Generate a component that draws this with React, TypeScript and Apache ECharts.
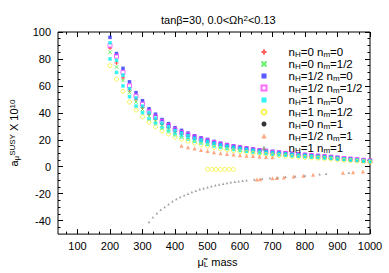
import React, { useEffect, useRef } from 'react';
import * as echarts from 'echarts';

const FONT = '"Liberation Sans", Arial, Helvetica, sans-serif';

// shared mass grid for the upper band (GeV)
const massGrid = [200, 220, 240, 260, 280, 300, 320, 340, 360, 380, 400, 420, 440, 460, 480, 500, 520, 540, 560, 580, 600, 620, 640, 660, 680, 700, 720, 740, 760, 780, 800, 820, 840, 860, 880, 900, 920, 940, 960, 980, 1000];

const redY = [88, 77, 66, 57, 50, 44, 39, 35, 31.5, 29, 26, 24.3, 22.5, 20.7, 19.4, 18.3, 17, 15.8, 14.9, 14.0, 13.3, 12.6, 12.0, 11.3, 10.8, 10.3, 9.8, 9.4, 8.9, 8.6, 8.2, 7.8, 7.5, 7.1, 6.8, 6.2, 5.8, 5.4, 5.0, 4.5, 4.1];
const greenY = [85, 74, 64, 55, 48, 42.5, 37.5, 34, 30.5, 28, 25.2, 23.5, 21.8, 20, 18.7, 17.7, 16.4, 15.2, 14.4, 13.6, 12.9, 12.2, 11.6, 11.0, 10.4, 9.9, 9.5, 9.0, 8.6, 8.3, 7.9, 7.6, 7.2, 6.9, 6.5, 6.0, 5.6, 5.2, 4.8, 4.4, 4.0];
const blueY = [96, 84, 73, 63, 55, 49, 43, 39, 35, 32, 29, 27, 25, 23, 21.5, 20.3, 18.8, 17.5, 16.5, 15.6, 14.8, 14.0, 13.3, 12.6, 12.0, 11.4, 10.9, 10.4, 9.9, 9.5, 9.1, 8.7, 8.3, 7.9, 7.5, 6.9, 6.4, 6.0, 5.5, 5.0, 4.6];
const magentaY = [90, 82, 70, 60, 52.5, 46.5, 41, 37, 33.5, 30.5, 27.5, 25.5, 23.7, 22, 20.5, 19.3, 17.9, 16.7, 15.7, 14.8, 14.1, 13.3, 12.6, 12.0, 11.4, 10.8, 10.4, 9.9, 9.4, 9.0, 8.6, 8.3, 7.9, 7.5, 7.1, 6.6, 6.1, 5.7, 5.3, 4.8, 4.4];
const cyanUpperY = [92, 79, 68, 58, 51, 45, 40, 36, 32.3, 29.5, 26.7, 24.9, 23, 21.2, 19.8, 18.7, 17.3, 16.1, 15.2, 14.4, 13.6, 12.9, 12.2, 11.6, 11.0, 10.5, 10.0, 9.6, 9.1, 8.7, 8.4, 8.0, 7.6, 7.3, 6.9, 6.4, 5.9, 5.5, 5.1, 4.6, 4.2];
const cyanLowerY = [80, 70, 60, 52, 45, 40, 35.3, 32, 28.7, 26.2, 23.8, 22.1, 20.5, 18.9, 17.6, 16.6, 15.4, 14.4, 13.5, 12.8, 12.1, 11.5, 10.9, 10.3, 9.8, 9.3, 8.9, 8.5, 8.1, 7.8, 7.5, 7.1, 6.8, 6.5, 6.1, 5.7, 5.3, 4.9, 4.5, 4.1, 3.8];
const yellowY = [75, 65, 56, 48, 42, 37, 33, 29.6, 26.6, 24.3, 22, 20.5, 19, 17.5, 16.3, 15.4, 14.3, 13.3, 12.5, 11.8, 11.2, 10.6, 10.1, 9.6, 9.1, 8.7, 8.3, 7.9, 7.5, 7.2, 6.9, 6.6, 6.3, 6.0, 5.7, 5.2, 4.9, 4.5, 4.2, 3.8, 3.5];

const yellowLowMass = [500, 513, 526, 540, 553, 566, 580];
const yellowLowY = [-1.9, -1.9, -2.0, -2.0, -1.9, -1.9, -2.0];

const blackMass: number[] = [];
const blackY: number[] = [];

const orangeBandMass = [420, 440, 460, 480, 500, 520, 540, 560, 580, 600, 620, 640, 660, 680, 700];
const orangeBandY = [15.5, 14.5, 13.5, 12.5, 11.6, 10.8, 10.1, 9.5, 9.0, 8.6, 8.2, 7.9, 7.6, 7.3, 7.0];
const orangeLowMass = [652, 662, 700, 713, 735, 765, 795, 825, 917, 948, 978];
const orangeLowY = [-9.5, -9.2, -8.6, -8.4, -8.0, -7.2, -6.7, -6.0, -4.4, -4.1, -3.6];

const grayMass = [320, 332, 344, 356, 368, 380, 392, 404, 416, 428, 440, 452, 464, 476, 488, 500, 512, 524, 536, 548, 560, 572, 584, 596, 608, 620, 644, 668, 692, 716, 740, 770, 800, 845, 865, 935];
const grayY = [-41, -37.5, -34.5, -32, -29.8, -27.8, -25.6, -24, -22.5, -21.2, -20, -18.8, -17.8, -16.8, -16, -15.2, -14.5, -13.8, -13.2, -12.6, -12.1, -11.6, -11.2, -10.8, -10.4, -10.0, -9.4, -8.9, -8.4, -7.9, -7.5, -7.0, -6.5, -5.6, -5.3, -4.4];

const seriesNames = ['nH=0 nm=0', 'nH=0 nm=1/2', 'nH=1/2 nm=0', 'nH=1/2 nm=1/2', 'nH=1 nm=0', 'nH=1 nm=1/2', 'nH=0 nm=1', 'nH=1/2 nm=1', 'nH=1 nm=1'];

const xTickValues = [100, 200, 300, 400, 500, 600, 700, 800, 900, 1000];
const yTickValues = [-40, -20, 0, 20, 40, 60, 80, 100];
const X_MIN = 40, X_MAX = 1000, Y_MIN = -50, Y_MAX = 100;

const zip = (xs: number[], ys: number[]) => xs.map((x, i) => [x, ys[i]]);

const PLUS = 'path://M0,5L10,5M5,0L5,10';
const CROSS = 'path://M0,0L10,10M10,0L0,10';

export default function App() {
  const ref = useRef<HTMLDivElement>(null);
  useEffect(() => {
    document.body.style.margin = '0';
    if (!ref.current) return;
    const chart = echarts.init(ref.current, undefined, { renderer: 'svg' });

    const minorX: number[] = [];
    for (let v = 0; v <= X_MAX; v += 100) {
      [v + 100 / 3, v + 200 / 3].forEach((m) => { if (m > X_MIN && m < X_MAX) minorX.push(m); });
    }
    const minorY: number[] = [];
    for (let v = Y_MIN; v <= Y_MAX; v += 5) { if (v % 20 !== 0 && v > Y_MIN && v < Y_MAX) minorY.push(v); }

    const baseX = { type: 'value', min: X_MIN, max: X_MAX, gridIndex: 0, splitLine: { show: false }, axisLine: { show: false, onZero: false } };
    const baseY = { type: 'value', min: Y_MIN, max: Y_MAX, gridIndex: 0, splitLine: { show: false }, axisLine: { show: false, onZero: false } };
    const tick = (vals: number[], len: number) => ({ show: true, inside: true, length: len, customValues: vals, lineStyle: { color: '#000', width: 1 } });
    const noLabel = { show: false };
    const sub = { fontSize: 8, lineHeight: 6, verticalAlign: 'bottom', fontFamily: FONT, color: '#000' };
    const sup = { fontSize: 8, lineHeight: 6, verticalAlign: 'top', fontFamily: FONT, color: '#000' };
    const lsub = { fontSize: 8, lineHeight: 7, verticalAlign: 'bottom', fontFamily: FONT, color: '#000' };

    const scatter = (name: string, data: number[][], symbol: string, size: number, itemStyle: any) => ({
      type: 'scatter', name, data, symbol, symbolSize: size, itemStyle, xAxisIndex: 0, yAxisIndex: 0,
      emphasis: { disabled: true },
    });

    chart.setOption({
      animation: false,
      backgroundColor: '#fff',
      title: {
        text: 'tanβ=30, 0.0<Ωh{sup|2}<0.13',
        left: 156, top: 9,
        textStyle: { fontSize: 11, fontWeight: 'normal', fontFamily: FONT, color: '#000', lineHeight: 12, rich: { sup } },
      },
      grid: { left: 57, right: 19, top: 32, bottom: 34, show: true, borderColor: '#000', borderWidth: 1, backgroundColor: 'transparent' },
      legend: {
        orient: 'vertical', left: 254, top: 41, itemWidth: 5, itemHeight: 5, itemGap: 0,
        selectedMode: false,
        data: seriesNames,
        formatter: (n: string) => n.replace('nH', 'n{s|H}').replace('nm', 'n{s|m}'),
        textStyle: { fontSize: 11.5, lineHeight: 12, fontFamily: FONT, color: '#000', padding: [0, 0, 0, 17], rich: { s: lsub } },
      },
      xAxis: [
        { ...baseX, position: 'bottom', axisTick: tick(xTickValues, 5),
          axisLabel: { show: true, customValues: xTickValues, formatter: (v: number) => String(v), margin: 6, fontSize: 11, fontFamily: FONT, color: '#000' },
          name: 'μ̃{sub|L} mass', nameLocation: 'middle', nameGap: 21,
          nameTextStyle: { fontSize: 11, fontFamily: FONT, color: '#000', lineHeight: 12, padding: [0, 0, 0, 7], rich: { sub } } },
        { ...baseX, position: 'top', axisTick: tick(xTickValues, 5), axisLabel: noLabel },
        { ...baseX, position: 'bottom', axisTick: tick(minorX, 2.5), axisLabel: noLabel },
        { ...baseX, position: 'top', axisTick: tick(minorX, 2.5), axisLabel: noLabel },
      ],
      yAxis: [
        { ...baseY, position: 'left', axisTick: tick(yTickValues, 5),
          axisLabel: { show: true, customValues: yTickValues, formatter: (v: number) => String(v), margin: 7, fontSize: 11, fontFamily: FONT, color: '#000' },
          name: 'a{sub|μ}{sup|SUSY} X 10{sup|10}', nameLocation: 'middle', nameRotate: 90, nameGap: 38,
          nameTextStyle: { fontSize: 11, fontFamily: FONT, color: '#000', lineHeight: 12, rich: { sub, sup } } },
        { ...baseY, position: 'right', axisTick: tick(yTickValues, 5), axisLabel: noLabel },
        { ...baseY, position: 'left', axisTick: tick(minorY, 2.5), axisLabel: noLabel },
        { ...baseY, position: 'right', axisTick: tick(minorY, 2.5), axisLabel: noLabel },
      ],
      series: [
        scatter(seriesNames[0], zip(massGrid, redY), PLUS, 4, { color: 'none', borderColor: '#ff3030', borderWidth: 1 }),
        scatter(seriesNames[1], zip(massGrid, greenY), CROSS, 3.5, { color: 'none', borderColor: '#44ee44', borderWidth: 1 }),
        scatter(seriesNames[2], zip(massGrid, blueY), 'rect', 3.5, { color: '#3030ff' }),
        scatter(seriesNames[3], zip(massGrid, magentaY), 'rect', 4, { color: 'none', borderColor: '#ff44ff', borderWidth: 1 }),
        scatter(seriesNames[4], zip(massGrid, cyanUpperY).concat(zip(massGrid, cyanLowerY)), 'rect', 3.5, { color: '#00f0f0' }),
        scatter(seriesNames[5], zip(massGrid, yellowY).concat(zip(yellowLowMass, yellowLowY)), 'circle', 4, { color: 'none', borderColor: '#f5f030', borderWidth: 1 }),
        scatter(seriesNames[6], zip(blackMass, blackY), 'circle', 3.5, { color: '#000' }),
        scatter(seriesNames[7], zip(orangeBandMass, orangeBandY).concat(zip(orangeLowMass, orangeLowY)), 'triangle', 4, { color: '#ff9060' }),
        scatter(seriesNames[8], zip(grayMass, grayY), 'triangle', 2.5, { color: '#888888' }),
      ],
    });
    return () => chart.dispose();
  }, []);
  return <div ref={ref} style={{ position: 'absolute', left: 0, top: 0, width: 389, height: 273 }} />;
}
